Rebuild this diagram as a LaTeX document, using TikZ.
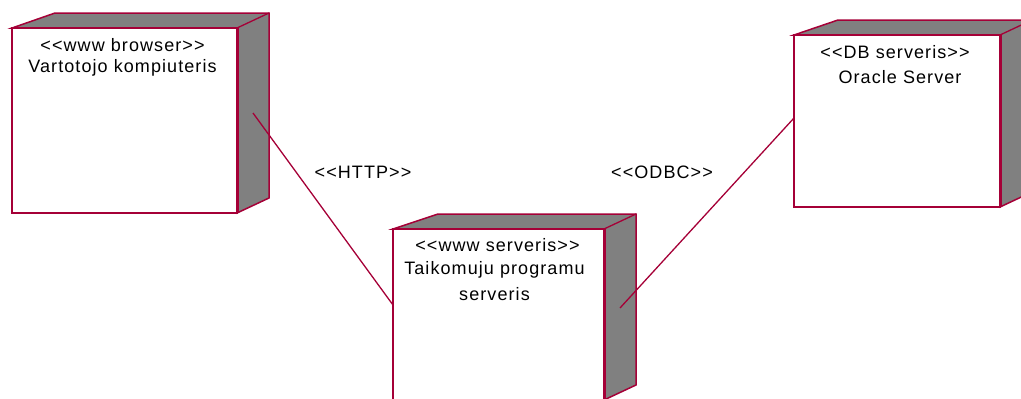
\documentclass[tikz,border=0pt]{standalone}
\usepackage{fontspec}
\setmainfont{Liberation Sans}[LetterSpace=6]
\usetikzlibrary{calc}

\definecolor{nodeedge}{RGB}{165,0,55}
\definecolor{nodeshade}{RGB}{128,128,128}

\tikzset{
  frontface/.style={draw=nodeedge, fill=white, line width=2pt,
    inner sep=0pt, outer sep=0pt},
  depthface/.style={fill=nodeshade, draw=nodeedge, line width=1.5pt, line join=miter},
  depthedge/.style={draw=nodeedge, line width=1.3pt},
  frontedge/.style={draw=nodeedge, line width=3pt},
  caption/.style={font=\fontsize{18}{26}\selectfont, text=black, inner sep=0pt, align=center},
  link/.style={draw=nodeedge, line width=1.3pt},
  linklabel/.style={font=\fontsize{18}{22}\selectfont, text=black, inner sep=0pt}
}

% three-dimensional UML node: top and right faces behind a front rectangle
\newcommand\umldepth[2]{%
  \path[depthface] (#1.north west) -- ++(#2,-15)
    -- ($(#1.north east)+(32,-15)$) -- ($(#1.south east)+(32,-15)$)
    -- (#1.south east) -- (#1.north east) -- cycle;
  \path[depthedge] (#1.north east) -- ++(32,-15);
}

\begin{document}
\begin{tikzpicture}[x=1pt, y={(0pt,-1pt)}]
  \useasboundingbox (0,0) rectangle (1021,399);

  % front faces
  \path (124.5,120.5) node[minimum width=225pt, minimum height=185pt, inner sep=0pt, outer sep=0pt] (browser) {};
  \path (498.5,314.5) node[minimum width=211pt, minimum height=171pt, inner sep=0pt, outer sep=0pt] (appsrv) {};
  \path (897,121) node[minimum width=206pt, minimum height=172pt, inner sep=0pt, outer sep=0pt] (dbsrv) {};

  % depth faces
  \umldepth{browser}{43}
  \umldepth{appsrv}{45}
  \umldepth{dbsrv}{44}

  % front rectangles on top of the depth
  \foreach \n in {browser, appsrv, dbsrv}{
    \path[frontface] (\n.north west) rectangle (\n.south east);
    \path[frontedge] (\n.north east) -- (\n.south east);
  }

  % captions
  \node[caption] (browserst) at ($(browser.north)+(-2,17)$) {<{}<www browser>{}>};
  \node[caption] (browsernm) at ($(browser.north)+(-2,40)$) {Vartotojo kompiuteris};
  \node[caption] (appst) at ($(appsrv.north)+(-1,16)$) {<{}<www serveris>{}>};
  \node[caption] (appnm) at ($(appsrv.north)+(-4,52.5)$) {Taikomuju programu\\serveris};
  \node[caption] (dbst) at ($(dbsrv.north)+(-2,17)$) {<{}<DB serveris>{}>};
  \node[caption] (dbnm) at ($(dbsrv.north)+(3,42)$) {Oracle Server};

  % connector end points
  \coordinate (httpA) at ($(browser.north east)+(16,85)$);
  \coordinate (httpB) at ($(appsrv.north west)+(0,76)$);
  \coordinate (odbcA) at ($(appsrv.north east)+(16,79)$);
  \coordinate (odbcB) at ($(dbsrv.north west)+(0,83)$);

  % connectors
  \draw[link] (httpA) -- (httpB);
  \draw[link] (odbcA) -- (odbcB);

  \node[linklabel] (httplbl) at (363,172) {<{}<HTTP>{}>};
  \node[linklabel] (odbclbl) at (662,172) {<{}<ODBC>{}>};
\end{tikzpicture}
\end{document}
